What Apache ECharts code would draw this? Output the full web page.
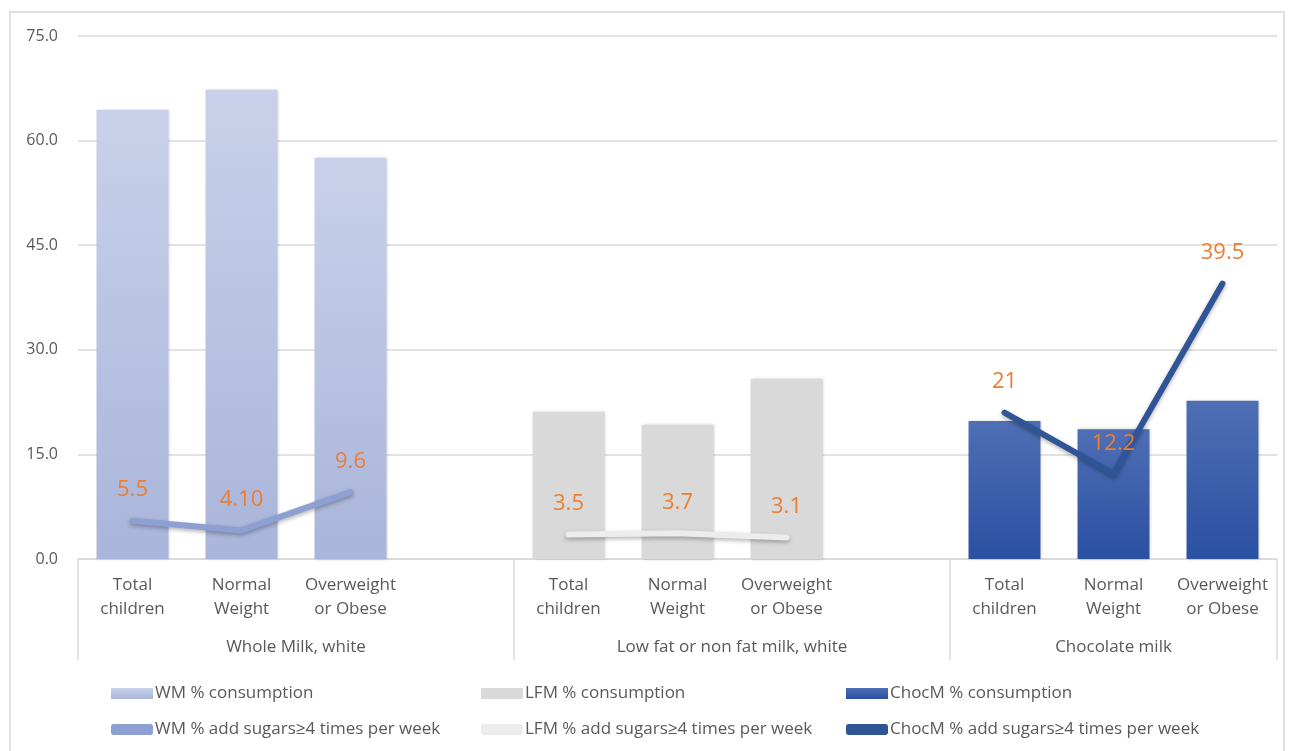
<!DOCTYPE html>
<html>
<head>
<meta charset="utf-8">
<script src="https://cdn.jsdelivr.net/npm/echarts@6/dist/echarts.min.js"></script>
<style>
html,body{margin:0;padding:0;background:#fff;}
#frame{position:absolute;left:9px;top:11px;width:1276px;height:760px;border:2px solid #e0e0e0;box-sizing:border-box;}
#chart{position:absolute;left:0;top:0;width:1290px;height:751px;}
</style>
</head>
<body>
<div id="frame"></div>
<div id="chart"></div>
<script>
// ---- data ----
const subCategories = ['Total\nchildren', 'Normal\nWeight', 'Overweight\nor Obese'];
const groupNames = ['Whole Milk, white', 'Low fat or non fat milk, white', 'Chocolate milk'];
const wmConsumption = [64.4, 67.3, 57.5];
const lfmConsumption = [21.1, 19.2, 25.8];
const chocConsumption = [19.8, 18.6, 22.7];
const wmSugars = [5.5, 4.1, 9.6];
const lfmSugars = [3.5, 3.7, 3.1];
const chocSugars = [21, 12.2, 39.5];
const wmSugarLabels = ['5.5', '4.10', '9.6'];
const lfmSugarLabels = ['3.5', '3.7', '3.1'];
const chocSugarLabels = ['21', '12.2', '39.5'];
const yTicks = [0, 15, 30, 45, 60, 75];

// ---- build slot layout: 3 groups with a blank slot between ----
const slotCats = [];
const groupStart = [];
groupNames.forEach((g, gi) => {
  groupStart.push(slotCats.length);
  subCategories.forEach(c => slotCats.push(c));
  if (gi < groupNames.length - 1) slotCats.push('');
});
function place(gi, arr) {
  const out = slotCats.map(() => null);
  arr.forEach((v, i) => { out[groupStart[gi] + i] = v; });
  return out;
}
function placeLabels(gi, vals, labels) {
  const out = slotCats.map(() => null);
  vals.forEach((v, i) => { out[groupStart[gi] + i] = { value: v, labelText: labels[i] }; });
  return out;
}
const nSlots = slotCats.length;
const boundaries = [0, groupStart[1], groupStart[2], nSlots];
const groupCentres = [
  (0 + groupStart[1]) / 2,
  (groupStart[1] + groupStart[2]) / 2,
  (groupStart[2] + nSlots) / 2
];

const textColor = '#595959';
const gridColor = '#d9d9d9';
const labelOrange = '#ED7D31';
const font = '"Open Sans", "Noto Sans", sans-serif';

const wmGrad = new echarts.graphic.LinearGradient(0, 0, 0, 1, [
  { offset: 0, color: '#c9d1ea' }, { offset: 1, color: '#a9b5da' }]);
const lfmColor = '#d9d9d9';
const chocGrad = new echarts.graphic.LinearGradient(0, 0, 0, 1, [
  { offset: 0, color: '#4f6fb5' }, { offset: 1, color: '#2a50a2' }]);

function barSeries(name, data, color) {
  return {
    name, type: 'bar', data, barWidth: '66%', barGap: '-100%',
    itemStyle: { color, shadowBlur: 3, shadowColor: 'rgba(0,0,0,0.25)', shadowOffsetX: 1, shadowOffsetY: 0 },
    z: 2
  };
}
function lineSeries(name, data, color) {
  return {
    name, type: 'line', data, symbol: 'circle', symbolSize: 1, showSymbol: true, connectNulls: false,
    lineStyle: { color, width: 6, cap: 'round', join: 'round', shadowBlur: 4, shadowColor: 'rgba(0,0,0,0.3)', shadowOffsetY: 2 },
    itemStyle: { color, opacity: 1 },
    label: {
      show: true, position: 'top', distance: 19, color: labelOrange, fontSize: 22, fontFamily: font,
      formatter: p => (p.data && p.data.labelText) ? p.data.labelText : ''
    },
    z: 5
  };
}

const chart = echarts.init(document.getElementById('chart'));
const legendText = { color: textColor, fontSize: 17, fontFamily: font, padding: [0, 0, 0, -3] };
function legendCol(left, names, icons) {
  return {
    orient: 'vertical', left, top: 680, itemGap: 19, itemWidth: 42, itemHeight: 11,
    textStyle: legendText, selectedMode: false,
    data: names.map((n, i) => ({ name: n, icon: icons[i] }))
  };
}
chart.setOption({
  animation: false,
  grid: { left: 78, right: 13, top: 36, bottom: 192, containLabel: false },
  legend: [
    legendCol(106, ['WM % consumption', 'WM % add sugars≥4 times per week'], ['rect', 'roundRect']),
    legendCol(476, ['LFM % consumption', 'LFM % add sugars≥4 times per week'], ['rect', 'roundRect']),
    legendCol(841, ['ChocM % consumption', 'ChocM % add sugars≥4 times per week'], ['rect', 'roundRect'])
  ],
  xAxis: [
    {
      type: 'category', data: slotCats, position: 'bottom',
      axisLine: { show: true, lineStyle: { color: gridColor, width: 1.5 } },
      axisTick: { show: false },
      axisLabel: { color: textColor, fontSize: 17, lineHeight: 24, fontFamily: font, margin: 14, interval: 0 }
    },
    {
      type: 'value', min: 0, max: nSlots, position: 'bottom',
      axisLine: { show: false },
      splitLine: { show: false },
      axisTick: { show: true, length: 101, lineStyle: { color: gridColor, width: 1.5 }, customValues: boundaries },
      axisLabel: {
        show: true, color: textColor, fontSize: 17, fontFamily: font, margin: 80,
        customValues: groupCentres,
        formatter: v => { const i = groupCentres.indexOf(v); return i >= 0 ? groupNames[i] : ''; }
      }
    }
  ],
  yAxis: {
    type: 'value', min: yTicks[0], max: yTicks[yTicks.length - 1], interval: 15,
    axisLine: { show: false }, axisTick: { show: false },
    axisLabel: { color: textColor, fontSize: 16, fontFamily: font, margin: 20, formatter: v => v.toFixed(1) },
    splitLine: { lineStyle: { color: gridColor, width: 1.5 } }
  },
  series: [
    barSeries('WM % consumption', place(0, wmConsumption), wmGrad),
    barSeries('LFM % consumption', place(1, lfmConsumption), lfmColor),
    barSeries('ChocM % consumption', place(2, chocConsumption), chocGrad),
    lineSeries('WM % add sugars≥4 times per week', placeLabels(0, wmSugars, wmSugarLabels), '#8e9fd3'),
    lineSeries('LFM % add sugars≥4 times per week', placeLabels(1, lfmSugars, lfmSugarLabels), '#ececec'),
    lineSeries('ChocM % add sugars≥4 times per week', placeLabels(2, chocSugars, chocSugarLabels), '#2f5597')
  ]
});
</script>
</body>
</html>
